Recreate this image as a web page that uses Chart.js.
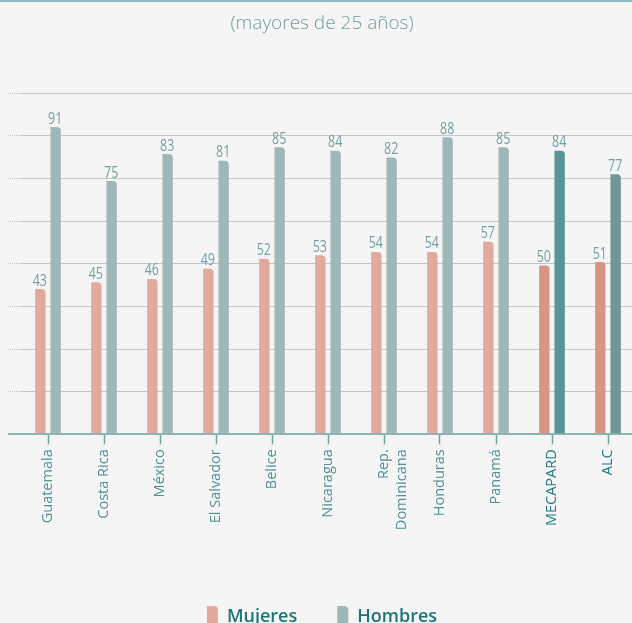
<!DOCTYPE html>
<html>
<head>
<meta charset="utf-8">
<script src="https://cdn.jsdelivr.net/npm/chart.js@4"></script>
<style>
  html, body { margin: 0; padding: 0; background: #f5f5f5; overflow: hidden; }
  #wrap { position: relative; width: 636px; height: 640px; }
  #topline { position: absolute; left: 0; top: 0; width: 636px; height: 2px; background: #8ab9be; z-index: 2; }
</style>
</head>
<body>
<div id="wrap">
  <div id="topline"></div>
  <canvas id="c"></canvas>
</div>
<script>
const categories = ['Guatemala', 'Costa Rica', 'México', 'El Salvador', 'Belice', 'Nicaragua', ['Rep.', 'Dominicana'], 'Honduras', 'Panamá', 'MECAPARD', 'ALC'];
const mujeres = [43, 45, 46, 49, 52, 53, 54, 54, 57, 50, 51];
const hombres = [91, 75, 83, 81, 85, 84, 82, 88, 85, 84, 77];
const seriesNames = ['Mujeres', 'Hombres'];
const titleText = '(mayores de 25 años)';

const mujeresColors = categories.map((c, i) => i >= 9 ? '#d99583' : '#e1aa9c');
const hombresColors = categories.map((c, i) => i === 9 ? '#57959b' : (i === 10 ? '#709793' : '#9db8b7'));
const tickColors = categories.map((c, i) => i >= 9 ? '#1e7a80' : '#4f9093');

const valueLabels = {
  id: 'valueLabels',
  afterDatasetsDraw(chart) {
    const ctx = chart.ctx;
    chart.data.datasets.forEach((ds, di) => {
      const meta = chart.getDatasetMeta(di);
      meta.data.forEach((bar, i) => {
        ctx.save();
        ctx.font = "16px 'Open Sans', sans-serif";
        ctx.fillStyle = '#74a1a0';
        ctx.textAlign = 'center';
        ctx.textBaseline = 'alphabetic';
        ctx.translate(bar.x - 0.5, bar.y - 3.5);
        ctx.scale(0.78, 1);
        ctx.fillText(String(ds.data[i]), 0, 0);
        ctx.restore();
      });
    });
  }
};

const isZero = (c) => c.tick && c.tick.value === 0;

new Chart(document.getElementById('c'), {
  type: 'bar',
  data: {
    labels: categories,
    datasets: [
      { label: seriesNames[0], data: mujeres, backgroundColor: mujeresColors },
      { label: seriesNames[1], data: hombres, backgroundColor: hombresColors }
    ]
  },
  options: {
    responsive: true,
    maintainAspectRatio: false,
    animation: false,
    devicePixelRatio: 1,
    layout: { padding: { left: 8, right: 0, top: 0, bottom: 2 } },
    datasets: {
      bar: {
        categoryPercentage: 0.546,
        barPercentage: 0.68,
        borderRadius: { topLeft: 0, topRight: 4, bottomLeft: 0, bottomRight: 0 },
        borderSkipped: 'start'
      }
    },
    scales: {
      x: {
        offset: true,
        grid: { offset: false, drawOnChartArea: false, drawTicks: true, tickLength: 10, tickColor: '#6fa3a3', tickWidth: 1.5 },
        border: { display: true, color: '#8ab3b3', width: 2 },
        ticks: {
          autoSkip: false, maxRotation: 90, minRotation: 90, padding: 5,
          font: { family: "'Open Sans', sans-serif", size: 14.5 },
          color: (c) => tickColors[c.index]
        },
        afterFit(scale) { scale.height = 131.7; }
      },
      y: {
        min: 0, max: 101,
        ticks: { display: false, count: 9 },
        border: { display: false },
        grid: {
          drawTicks: true, tickLength: 12,
          color: (c) => isZero(c) ? '#8ab3b3' : '#c4c4c4',
          tickColor: (c) => isZero(c) ? '#8ab3b3' : '#c4c4c4',
          lineWidth: (c) => isZero(c) ? 2 : 1,
          tickWidth: (c) => isZero(c) ? 2 : 1,
          borderDash: (c) => isZero(c) ? [] : [1, 1],
          tickBorderDash: (c) => isZero(c) ? [] : [1, 1]
        }
      }
    },
    plugins: {
      tooltip: { enabled: false },
      title: {
        display: true,
        text: titleText,
        color: '#6f9e9d',
        font: { family: "'Open Sans', sans-serif", size: 19, weight: 300 },
        padding: { top: 12, bottom: 58.5 }
      },
      legend: {
        display: true,
        position: 'bottom',
        labels: {
          boxWidth: 11,
          boxHeight: 22,
          padding: 40,
          color: '#1f7377',
          useBorderRadius: true,
          borderRadius: { topLeft: 0, topRight: 4, bottomLeft: 0, bottomRight: 0 },
          font: { family: "'Open Sans', sans-serif", size: 18, weight: 600 },
          generateLabels(chart) {
            return chart.data.datasets.map((ds, i) => ({
              text: ds.label,
              fillStyle: ds.backgroundColor[0],
              strokeStyle: ds.backgroundColor[0],
              lineWidth: 0,
              fontColor: '#1f7377',
              borderRadius: { topLeft: 0, topRight: 4, bottomLeft: 0, bottomRight: 0 },
              hidden: false,
              datasetIndex: i
            }));
          }
        }
      }
    }
  },
  plugins: [valueLabels]
});
</script>
</body>
</html>
